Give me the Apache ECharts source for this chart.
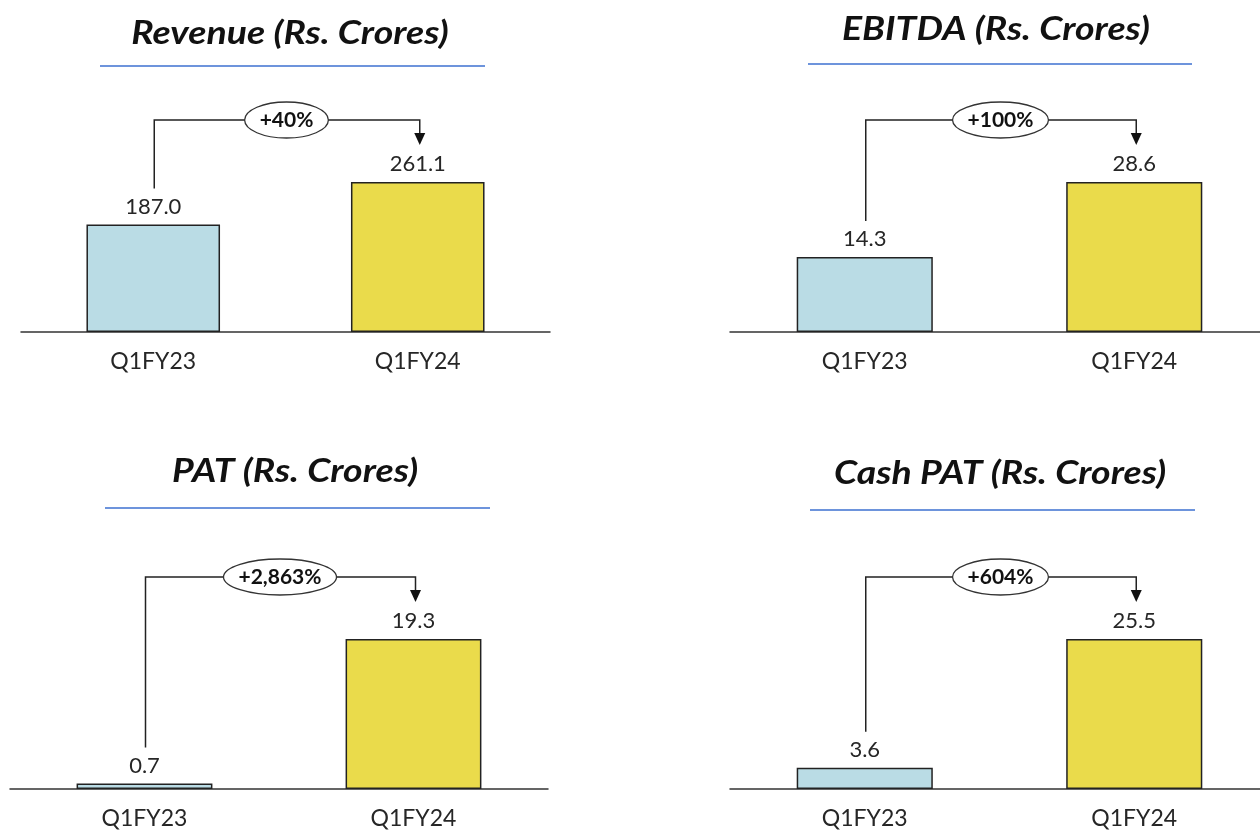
<!DOCTYPE html>
<html>
<head>
<meta charset="utf-8">
<script src="https://cdn.jsdelivr.net/npm/echarts@6/dist/echarts.min.js"></script>
<style>
html,body{margin:0;padding:0;background:#fff;}
#main{width:1260px;height:831px;}
</style>
</head>
<body>
<div id="main"></div>
<script>
const categories = ['Q1FY23', 'Q1FY24'];
const revenue = [187.0, 261.1];
const ebitda = [14.3, 28.6];
const pat = [0.7, 19.3];
const cashPat = [3.6, 25.5];
const growthLabels = ['+40%', '+100%', '+2,863%', '+604%'];
const titles = ['Revenue (Rs. Crores)', 'EBITDA (Rs. Crores)', 'PAT (Rs. Crores)', 'Cash PAT (Rs. Crores)'];

const panels = [revenue, ebitda, pat, cashPat];
const barColors = ['#BADCE5', '#EADB4B'];
const FONT = 'Lato, "Open Sans", sans-serif';

const grids = [
  {left: 21, top: 100, width: 529, height: 232},
  {left: 730, top: 100, width: 539, height: 232},
  {left: 10, top: 557, width: 538, height: 232},
  {left: 730, top: 557, width: 539, height: 232}
];
const titlePos = [[290, 34], [996, 30], [295, 472], [1000, 474]];
const underlines = [[100, 485, 66], [808, 1192, 64], [105, 490, 508], [810, 1195, 510]];

const chart = echarts.init(document.getElementById('main'), null, {renderer: 'canvas'});

const option = {
  backgroundColor: '#ffffff',
  animation: false,
  grid: grids.map(g => Object.assign({containLabel: false, outerBoundsMode: 'none'}, g)),
  xAxis: grids.map((g, i) => ({
    type: 'category',
    gridIndex: i,
    data: categories,
    boundaryGap: true,
    axisLine: {show: true, lineStyle: {color: '#333', width: 1.5}},
    axisTick: {show: false},
    axisLabel: {margin: 18, fontSize: 23, color: '#262626', fontFamily: FONT}
  })),
  yAxis: panels.map((vals, i) => ({
    type: 'value',
    gridIndex: i,
    show: false,
    min: 0,
    max: Math.max.apply(null, vals) * 232 / 150,
    splitLine: {show: false}
  })),
  series: panels.map((vals, i) => ({
    type: 'bar',
    xAxisIndex: i,
    yAxisIndex: i,
    barWidth: '50.5%',
    data: vals.map((v, j) => ({
      value: v,
      itemStyle: {color: barColors[j], borderColor: '#222', borderWidth: 1.5}
    })),
    label: {
      show: true,
      position: 'top',
      distance: 7,
      fontSize: 22,
      color: '#262626',
      fontFamily: FONT,
      formatter: p => p.value.toFixed(1)
    }
  }))
};
chart.setOption(option);

const ctx = document.createElement('canvas').getContext('2d');
ctx.font = 'bold 21px ' + FONT;

const graphics = [];
titles.forEach((t, i) => {
  graphics.push({
    type: 'text',
    x: titlePos[i][0], y: titlePos[i][1],
    scaleX: 1.17,
    style: {
      text: t, fill: '#111',
      font: 'italic bold 32px ' + FONT,
      textAlign: 'center', textVerticalAlign: 'middle'
    }
  });
  const u = underlines[i];
  graphics.push({
    type: 'line',
    shape: {x1: u[0], y1: u[2], x2: u[1], y2: u[2]},
    style: {stroke: '#6d94dc', lineWidth: 2}
  });
});

panels.forEach((vals, i) => {
  const p0 = chart.convertToPixel({gridIndex: i}, [0, vals[0]]);
  const p1 = chart.convertToPixel({gridIndex: i}, [1, vals[1]]);
  const x0 = p0[0] + 1, x1 = p1[0] + 2;
  const topY = Math.min(p0[1], p1[1]) - 62;
  const startY = p0[1] - 36;
  const tipY = p1[1] - 37;
  graphics.push({
    type: 'polyline',
    shape: {points: [[x0, startY], [x0, topY], [x1, topY], [x1, tipY - 11]]},
    style: {stroke: '#222', lineWidth: 1.5, fill: null}
  });
  graphics.push({
    type: 'polygon',
    shape: {points: [[x1 - 5.5, tipY - 12], [x1 + 5.5, tipY - 12], [x1, tipY]]},
    style: {fill: '#111', stroke: null}
  });
  const tw = ctx.measureText(growthLabels[i]).width;
  const cx = (p0[0] + p1[0]) / 2 + 1;
  graphics.push({
    type: 'ellipse',
    shape: {cx: cx, cy: topY, rx: tw / 2 + 15, ry: 18},
    style: {fill: '#fff', stroke: '#333', lineWidth: 1.3}
  });
  graphics.push({
    type: 'text',
    x: cx, y: topY,
    style: {
      text: growthLabels[i], fill: '#111',
      font: 'bold 21px ' + FONT,
      textAlign: 'center', textVerticalAlign: 'middle'
    }
  });
});

chart.setOption({graphic: {elements: graphics}});
</script>
</body>
</html>
